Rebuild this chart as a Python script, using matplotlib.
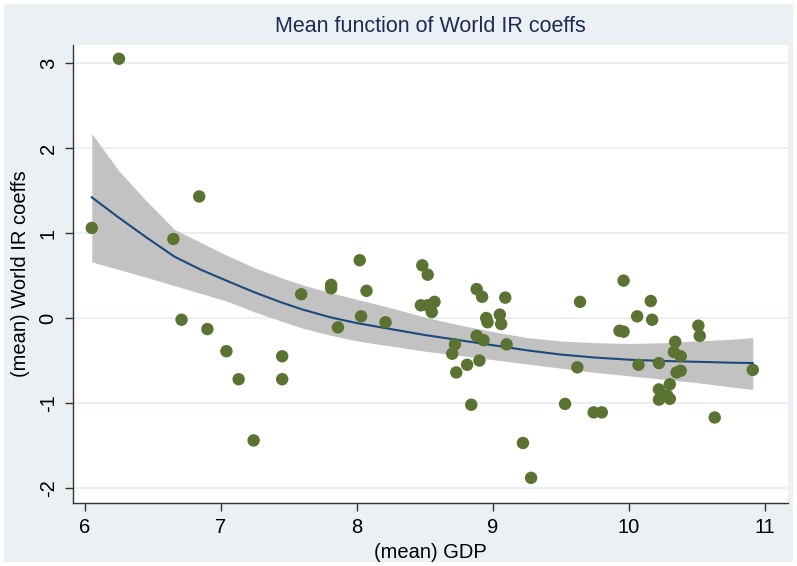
import matplotlib
matplotlib.use("Agg")
import matplotlib.pyplot as plt
from matplotlib.patches import Rectangle

# Country means: GDP (log) and World IR coefficient
gdp = [6.05, 6.25, 6.65, 6.84, 6.71, 6.90, 7.04, 7.13, 7.45, 7.45,
       7.24, 7.59, 7.81, 7.81, 7.86, 8.02, 8.07, 8.03, 8.21, 8.48,
       8.52, 8.47, 8.52, 8.57, 8.55, 8.72, 8.70, 8.73, 8.81, 8.84,
       8.88, 8.92, 9.09, 8.95, 8.96, 9.05, 9.06, 8.88, 8.93, 8.90,
       9.10, 9.22, 9.28, 9.53, 9.62, 9.64, 9.74, 9.80, 9.93, 9.96,
       9.96, 10.06, 10.07, 10.16, 10.17, 10.22, 10.33, 10.34, 10.38, 10.35,
       10.38, 10.22, 10.30, 10.22, 10.28, 10.30, 10.51, 10.52, 10.63, 10.91]
ir_coef = [1.06, 3.05, 0.93, 1.43, -0.02, -0.13, -0.39, -0.72, -0.45, -0.72,
           -1.44, 0.28, 0.39, 0.35, -0.11, 0.68, 0.32, 0.02, -0.05, 0.62,
           0.51, 0.15, 0.15, 0.19, 0.07, -0.31, -0.42, -0.64, -0.55, -1.02,
           0.34, 0.25, 0.24, 0.00, -0.05, 0.04, -0.07, -0.21, -0.26, -0.50,
           -0.31, -1.47, -1.88, -1.01, -0.58, 0.19, -1.11, -1.11, -0.15, -0.16,
           0.44, 0.02, -0.55, 0.20, -0.02, -0.53, -0.40, -0.28, -0.45, -0.64,
           -0.62, -0.84, -0.78, -0.96, -0.91, -0.95, -0.09, -0.21, -1.17, -0.61]

# Estimated mean function with its confidence band
fit_x = [6.05, 6.25, 6.45, 6.66, 6.85, 7.04, 7.25, 7.45, 7.60, 7.80,
         8.00, 8.25, 8.50, 8.75, 9.00, 9.25, 9.50, 9.75, 10.00, 10.25,
         10.50, 10.75, 10.91]
fit_y = [1.42, 1.18, 0.95, 0.72, 0.57, 0.44, 0.30, 0.18, 0.10, 0.01,
         -0.06, -0.13, -0.20, -0.26, -0.32, -0.38, -0.43, -0.465, -0.49, -0.505,
         -0.515, -0.525, -0.53]
ci_hi = [2.17, 1.73, 1.38, 1.04, 0.89, 0.74, 0.59, 0.47, 0.39, 0.30,
         0.22, 0.12, 0.01, -0.08, -0.16, -0.23, -0.27, -0.29, -0.30, -0.29,
         -0.27, -0.25, -0.23]
ci_lo = [0.66, 0.57, 0.48, 0.38, 0.29, 0.20, 0.07, -0.04, -0.12, -0.20,
         -0.27, -0.33, -0.39, -0.44, -0.49, -0.54, -0.59, -0.64, -0.68, -0.72,
         -0.76, -0.81, -0.84]

x_ticks = [6, 7, 8, 9, 10, 11]
y_ticks = [-2, -1, 0, 1, 2, 3]

plt.rcParams['font.family'] = ['Liberation Sans', 'DejaVu Sans']
plt.rcParams['axes.unicode_minus'] = False

W, H = 797, 566
fig = plt.figure(figsize=(W / 100, H / 100), dpi=100, facecolor='white')
fig.patches.append(Rectangle((4 / W, 4 / H), 1 - 8 / W, 1 - 8 / H,
                             transform=fig.transFigure, facecolor='#eaf0f3',
                             edgecolor='none', zorder=-10))

ax = fig.add_axes([73 / W, 63 / H, (788 - 73) / W, (503 - 45) / H])
ax.set_facecolor('white')

ax.fill_between(fit_x, ci_lo, ci_hi, color='#c2c2c2', linewidth=0, zorder=2)
ax.plot(fit_x, fit_y, color='#1c4a7c', linewidth=1.5, zorder=3)
ax.scatter(gdp, ir_coef, s=80, color='#5b7332', edgecolors='none', zorder=4)

ax.set_xlim(5.912, 11.169)
ax.set_ylim(-2.176, 3.212)
ax.set_xticks(x_ticks)
ax.set_yticks(y_ticks)
ax.yaxis.grid(True, color='#e6eff3', linewidth=1.2, zorder=0)
ax.set_axisbelow(True)

for side in ('top', 'right'):
    ax.spines[side].set_visible(False)
for side in ('left', 'bottom'):
    ax.spines[side].set_color('#333333')
    ax.spines[side].set_linewidth(1.0)

ax.tick_params(axis='both', direction='out', length=6, width=1.0,
               color='#333333', labelsize=14.5, labelcolor='black', pad=5)
for lab in ax.get_yticklabels():
    lab.set_rotation(90)
    lab.set_va('center')

ax.set_xlabel('(mean) GDP', fontsize=14.5, labelpad=4)
ax.set_ylabel('(mean) World IR coeffs', fontsize=14.5, labelpad=6)
fig.text(0.5 * (73 + 788) / W, 1 - 26 / H, 'Mean function of World IR coeffs',
         ha='center', va='center', fontsize=15.5, color='#1e2a4f')

fig.savefig('out.png', dpi=100, facecolor=fig.get_facecolor())
